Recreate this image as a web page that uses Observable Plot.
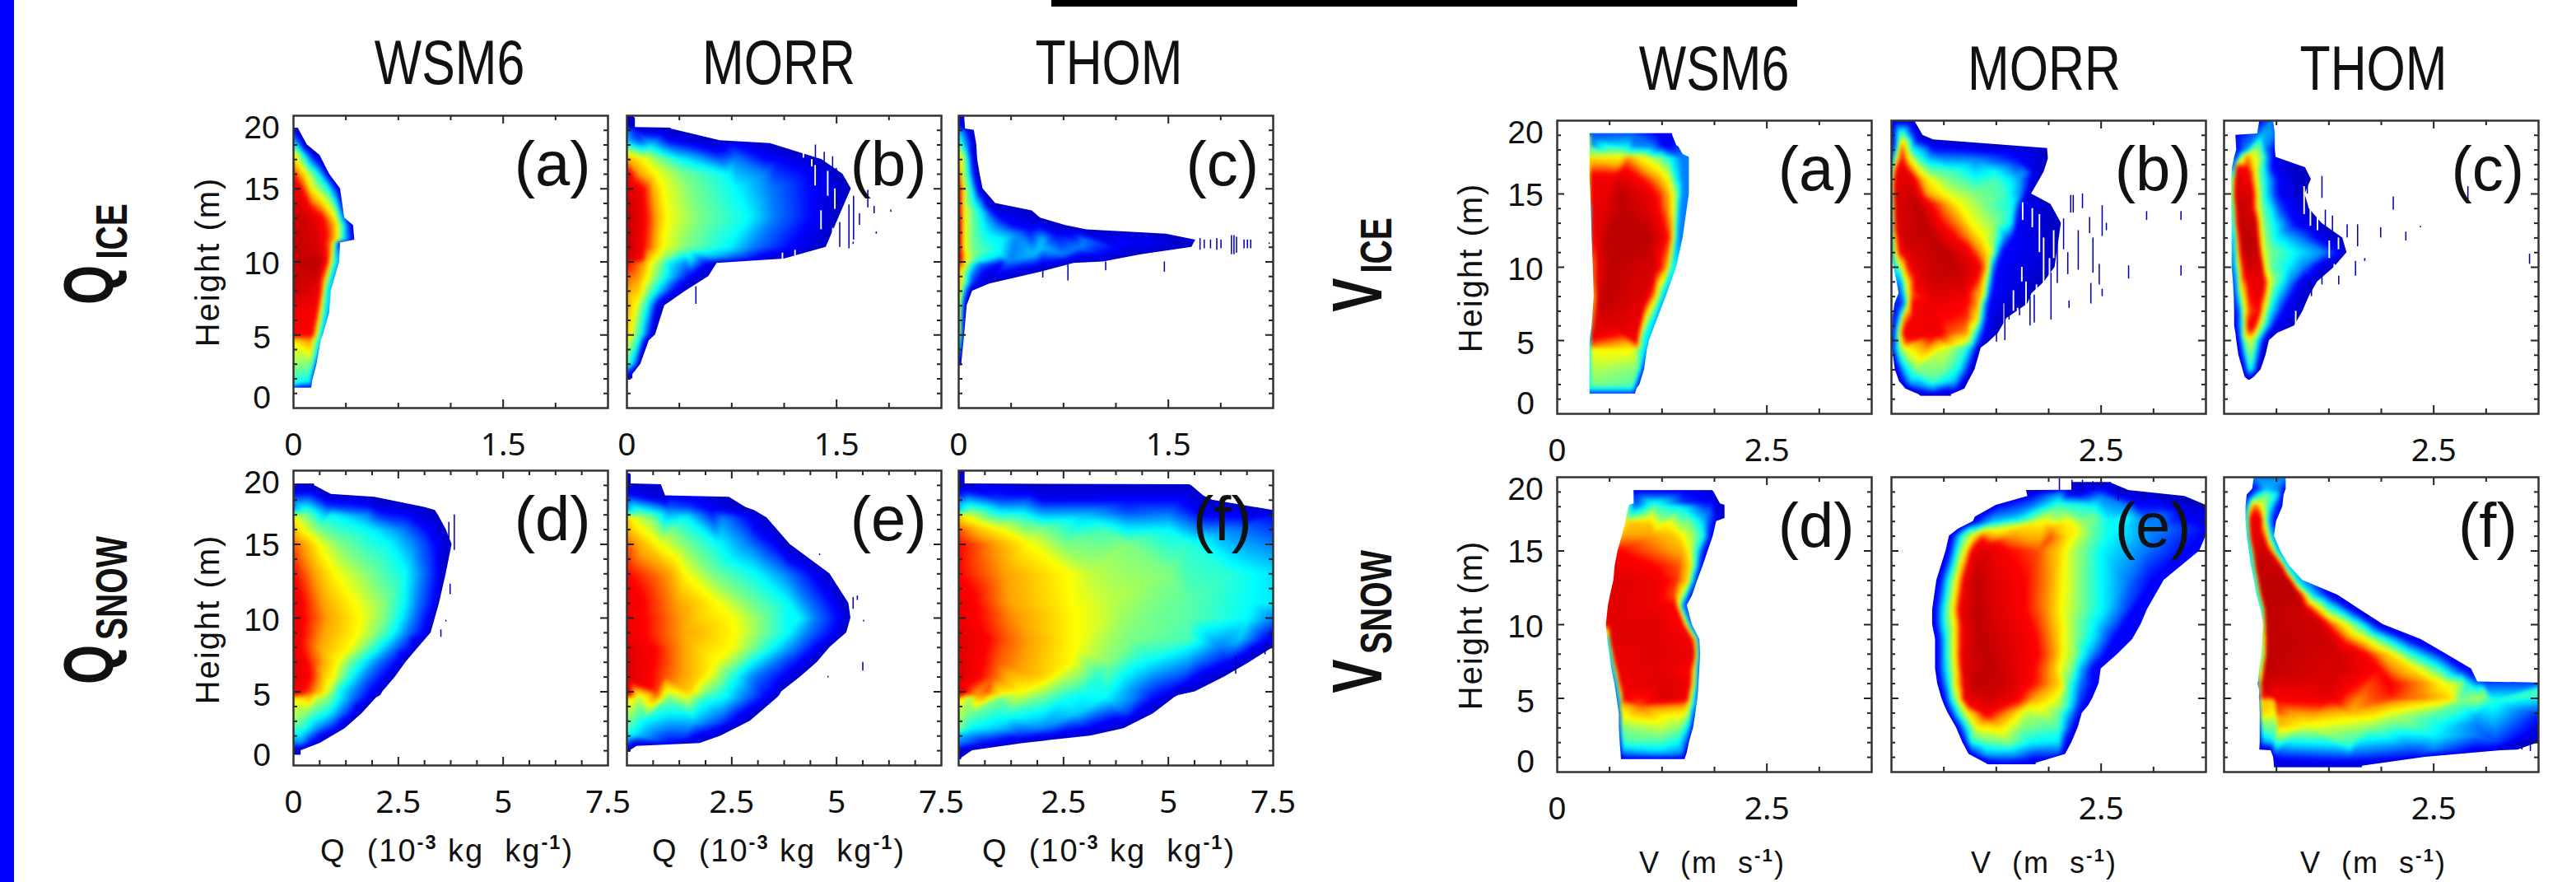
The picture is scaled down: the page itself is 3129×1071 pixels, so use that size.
<!DOCTYPE html>
<html><head><meta charset="utf-8">
<script src="https://cdn.jsdelivr.net/npm/d3@7"></script>
<script src="https://cdn.jsdelivr.net/npm/@observablehq/plot@0.6"></script>
<style>
html,body{margin:0;padding:0;background:#fff}
#page{position:relative;width:3129px;height:1071px;overflow:hidden;background:#fff;font-family:"Liberation Sans",sans-serif;color:#111}
#page svg{position:absolute;background:none;overflow:visible}
.lab{position:absolute;white-space:nowrap;transform-origin:center;line-height:1}
.lab sup{font-size:.62em;line-height:0;vertical-align:.62em;font-weight:bold}
</style></head><body><div id="page"></div>
<script>
// Readings: each row is [height km, bin, level, bin, level, ...]; level 0 = empty, 10 = densest.
// One bin is 0.003 (Q ice), 0.01 (Q snow) x 10^-3 kg/kg, or 0.005 m/s (V).
const qIceWsm=[[19.15,0,0,12,0],[19.1,0,2,10,1,12,0],[18,0,4,15,3,30,1,33,0],[17.3,0,6.5,20,4.5,45,2,60,1,63,0],[16,0,8,30,6,60,4,80,2,86,0],[15,0,8.5,20,8,45,6,85,4,108,1.5,112,0],[13,0,10,40,9,70,8,100,6,112,4,122,0],[12.5,0,10,50,9,95,7,105,6,120,4,140,1.5,143,0],[11.5,0,10,60,9,95,7,105,6,120,4,142,2,146,0],[11.3,0,10,60,9,90,7,98,5,108,2,112,0],[10,0,10,60,10,80,8,90,6,100,4,110,0],[8,0,10,40,9,65,8,72,6,80,4,90,0],[6.5,0,8.5,55,8,65,6,75,4,86,0],[5,0,8,45,8,50,7,55,6,65,4,71,0],[4.8,0,7.5,40,7.5,50,6.5,62,4,68,0],[4.6,0,6.2,50,5.5,60,4,66,0],[3,0,5.2,40,5,50,4,56,0],[1.8,0,4.2,35,4,45,0],[1.5,0,3.8,40,3.8,44,0],[1.42,0,2,40,2,43,0],[1.37,0,0,43,0]];
const qIceMorr=[[20,0,0,15,0],[19.8,0,1,15,1,20,0],[19.2,0,1,20,1],[19.15,0,0,105,0],[19.1,0,3,20,2,100,1,105,0],[18.3,0,3.5,30,2.5,100,2,200,1,222,0],[18.1,0,4,60,3.5,250,2,335,1,342,0],[17,0,7,40,6,80,5,130,4,260,3,360,2,460,1,465,0],[16,0,8.5,30,7,70,6,130,5,240,4,330,3,430,2,510,1,515,0],[15,0,9,40,8,60,7,85,6,150,5,260,4,340,3,440,2,530,1,535,0],[13,0,10,45,8,70,7,95,6,170,5,290,4,350,3,440,2,500,1,505,0],[11,0,10,40,8,65,7,85,6,140,5,240,4,300,3,390,2,470,1,475,0],[10.2,0,9.5,35,8,55,6.5,90,5,150,4,220,3,300,2,370,1,375,0],[9.9,0,8,40,7,55,6,80,5,100,4,140,3,190,2,210,1,215,0],[9,0,7.5,30,7,50,6,70,5,95,4,120,3,150,2,190,1,195,0],[8,0,7,30,6.5,50,5,70,4,90,3,110,2,135,1,140,0],[7,0,7,20,6,35,5,50,4,60,3,70,2,85,1,90,0],[5,0,6.5,10,6,20,5,35,4,45,3,55,2,65,1,68,0],[4.6,0,6,15,5,30,4,42,2,50,1,53,0],[3,0,4.5,10,4,20,3,30,1,33,0],[2.3,0,2,12,1,14,0],[2,0,0,14,0]];
const qIceThom=[[20,0,2,12,1,14,0],[19.1,0,2.5,12,1.5,16,0],[19,0,3.5,15,2.5,35,1,37,0],[18,0,5,10,4,20,3,40,1,43,0],[17,0,6.5,8,6,14,5,22,4,32,2,42,1,45,0],[16,0,8,7,6,14,5,25,4,36,2,48,1,51,0],[15,0,9,8,7,12,6,20,5,32,4,45,2,55,1,58,0],[14,0,9,8,7,12,6,22,5,40,4,55,3,70,1.5,85,1,88,0],[13.5,0,9,8,7,14,6,30,5,50,4,80,2,170,1,175,0],[13,0,9.5,8,7,14,6,30,5,55,4,75,3,100,2,190,1,195,0],[12.5,0,10,8,7,14,6,30,5,60,4,90,3,130,2,250,1,255,0],[12.2,0,10,8,7,14,6,30,5,60,4,110,3,170,2,300,1,305,0],[11.9,0,10,8,7,14,6,30,5,70,4,140,3,230,2,490,1,495,0],[11.5,0,10,8,7,14,6,30,5,100,4,200,3.5,300,3,400,2,480,1.5,560,1,565,0],[11,0,10,8,7,14,6,30,5,100,4,200,3.5,290,3,380,2,470,1.5,550,1,556,0],[10.5,0,10,10,7,20,6,35,5,100,4,180,3.5,250,3,340,2,430,1,435,0],[10,0,9,10,7,18,6,30,5,50,4,120,3,200,2,340,1,345,0],[9.9,0,8,10,7,20,5.5,30,4.5,50,3,100,2,270,1,275,0],[9.3,0,7,8,6,15,5,25,4,35,3,60,2,190,1,195,0],[8.5,0,7,6,6,12,5,20,4,30,2.5,70,1,74,0],[8,0,6.5,6,5.5,12,4,20,2.5,30,1,33,0],[7,0,6,5,5,10,3,18,1,20,0],[5,0,6,4,5,8,3,12,1,14,0],[3,0,2,5,1,7,0],[2.9,0,0,7,0]];
const qSnowWsm=[[19.1,0,0,50,0],[19,0,1.5,45,1,50,0],[18.4,0,2,85,1,90,0],[18.2,0,2.5,100,1.5,190,1,194,0],[17.5,0,3,100,2.5,200,1.5,310,1,314,0],[17.3,0,3.5,80,3,200,2,335,1,338,0],[17,0,5.8,30,5,90,4,180,3,270,2,340,1,345,0],[16,0,7,20,6,60,5,180,4,260,3,320,2,360,1,364,0],[15,0,7.5,45,6.5,60,6,110,5,230,4,290,3,340,2,375,1,378,0],[13,0,8,50,7,100,6,180,5,270,4,305,3,345,2,360,1,364,0],[11,0,8.5,70,7,145,6,220,5,265,4,295,3,335,2,345,1,348,0],[10,0,8.5,80,7,160,6,215,5,255,4,285,3,320,2,335,1,338,0],[9,0,8.5,70,7,155,6,200,5,240,4,270,3,310,2,325,1,328,0],[8,0,8.5,60,7,135,6,170,5,205,4,240,3,280,2,295,1,298,0],[7,0,9,50,7.5,105,6,130,5,165,4,200,3,245,2,265,1,268,0],[6,0,9,40,8,75,6.5,95,6,115,5,140,4,170,3,215,2,240,1,243,0],[5,0,8.5,40,7.5,70,6.4,85,5.5,110,4,145,3,185,2,210,1,213,0],[4.75,0,8,40,7,65,6,85,5,110,4,145,3,185,2,205,1,208,0],[4.6,0,6.2,60,5.5,85,5,110,4,140,3,175,2,195,1,198,0],[3.5,0,5.5,30,5,60,4.3,80,4,110,3,140,2,160,1,163,0],[2.5,0,4.6,10,4.5,30,4,60,3,100,2,120,1,123,0],[1.5,0,3,20,3,40,2,60,1,63,0],[1,0,1.5,15,1,18,0],[.7,0,0,18,0]];
const qSnowMorr=[[19.8,0,0,8,0],[19.7,0,1,8,1,10,0],[19.1,0,1,10,0],[19.05,0,1,78,1,82,0],[18.3,0,2,88,1,92,0],[18.2,0,2.5,100,2,180,1.5,240,1,244,0],[17.5,0,3,150,2.5,230,1.5,280,1,284,0],[17.3,0,3.5,100,3,200,2,300,1,304,0],[16.8,0,6.5,30,5.5,60,5,140,4,230,3,290,2,330,1,334,0],[15,0,7.5,50,6.5,75,6,140,5,220,4,290,3,350,2,385,1,389,0],[13,0,8,100,7,140,6,200,5,310,4,380,3,440,2,480,1,484,0],[11,0,8.5,120,7,215,6,290,5,385,4,430,3,490,2,525,1,529,0],[10,0,8.5,130,7,250,6,320,5,410,4,450,3,505,2,530,1,534,0],[9,0,8.5,130,7,260,6,320,5,385,4,430,3,490,2,520,1,524,0],[8,0,9,120,7.2,250,6,300,5,350,4,400,3,450,2,480,1,484,0],[7,0,9,100,7.5,210,6,260,5,300,4,350,3,410,2,450,1,454,0],[6,0,9,90,7.5,170,6.5,210,5.5,250,4.3,300,3,370,2,410,1,414,0],[5,0,9,70,7.7,150,6.5,190,5,240,4,290,3,345,2,365,1,369,0],[4.75,0,8.5,70,7.5,140,6,180,5,240,4,280,3,330,2,360,1,364,0],[4.6,0,6.5,30,5.5,100,5,180,4.5,230,4,280,3,330,2,355,1,359,0],[3,0,5,40,4,160,3.5,230,2.5,270,1.5,290,1,294,0],[2,0,4,30,3.5,140,2.5,200,1.5,220,1,224,0],[1.5,0,3,100,2,170,1,174,0],[1.3,0,1.5,20,1,24,0],[1,0,1,5,1,8,0],[.9,0,0,8,0]];
const qSnowThom=[[20,0,0,2,1,12,1,15,0],[19.1,0,1,15,1],[19.05,0,0,550,0],[19,0,1.5,180,1,550,1,555,0],[18.3,0,2.2,200,1.5,580,1,584,0],[18,0,3,100,2.5,400,2,600,1,605,0],[17.3,0,3.5,200,3,400,2.5,600,1.5,750,1.2],[17,0,6.5,30,5.5,150,4.2,300,3.5,500,3,750,2],[16,0,7.5,60,6.5,100,6,200,5,350,4.5,500,4,650,3,750,2.5],[15,0,8,90,7,170,6,250,5,400,5,550,4.3,680,3.3,750,3],[13,0,8,110,7,260,6,320,5.5,500,5,650,4.3,750,3.8],[11,0,8.5,120,7,270,6,360,5.5,550,4.7,700,4,750,3.9],[10,0,8.5,120,7.2,280,6,360,5.5,550,4.7,690,4,750,3],[8.5,0,9,110,7.5,280,6,400,5,550,4.5,670,3.5,730,2,750,1.5],[8,0,9,100,7.5,280,6,400,5,550,4,620,3,700,2,745,1,750,0],[7,0,9,90,7.5,270,6,360,5,450,4,560,3,640,2,690,1,694,0],[6,0,9,80,7.5,200,6.5,250,5.5,330,4.3,430,3.5,540,2.5,630,1,634,0],[5,0,9,70,7.5,150,6,220,5,300,4.2,420,3,500,2,560,1,564,0],[4.75,0,9,40,7,100,6,200,5,300,4,420,3,480,2,520,1,524,0],[4.6,0,6.5,30,5.2,100,5,250,4.2,350,4,420,3,470,2,510,1,514,0],[3.5,0,5.5,30,4.8,120,4.3,280,3.6,400,2.5,460,1,464,0],[2.5,0,5,30,4,100,3.5,200,3,300,2,390,1,394,0],[2,0,3.5,40,3,150,2.3,250,1.5,310,1,314,0],[1.5,0,3,30,2.5,60,2,150,1,154,0],[1,0,1.8,30,1,33,0],[.5,0,1,5,1,7,0],[.4,0,0,7,0]];
const vIceWsm=[[19.12,78,0,275,0],[19,78,0,80,2.5,180,2.8,240,2,265,1.5,275,0],[18.3,78,0,80,3,180,3,250,2,285,0],[18.2,78,0,80,4.5,170,4,230,3,270,2,290,0],[17.7,78,0,80,5,170,5,230,4,270,3,300,0],[17.5,78,0,80,6.3,150,6,170,7,200,6,240,5,270,4,295,3,315,0],[16,78,0,80,8.5,130,8.5,150,9,200,8,240,7,265,6,285,4,300,3,315,0],[15,80,0,82,8.5,120,8.7,150,10,200,9,250,7.5,270,6.5,285,5,300,3,315,0],[14,81,0,83,8.5,120,9,150,10,220,9,265,7,280,5.5,295,3,310,0],[12,83,0,85,8,100,9,120,10,220,10,270,7.5,280,5,290,3,300,0],[10,86,0,88,7,100,9,130,10,230,9.3,260,7,275,4,285,0],[8,88,0,90,6,95,9,120,10,210,9,235,6.5,250,4,260,0],[6,83,0,85,7,90,9,140,9,195,8.5,205,6,220,4,233,0],[5,78,0,80,8,190,8.3,195,6.5,205,4,220,0],[4.6,78,0,80,7.2,190,7.5,195,6,205,4,217,0],[4.4,78,0,80,6,180,6,205,4,215,0],[3,78,0,80,5.4,190,5,200,3.5,208,0],[2,78,0,80,5,180,4.7,195,2,197,0],[1.7,78,0,80,4,180,4,190,0],[1.42,78,0,80,2.5,180,2.5,187,0],[1.35,78,0,187,0]];
const vIceMorr=[[20,3,0,5,1.5,45,1.5,55,0],[19,0,0,3,2,25,5,45,3,60,2,70,1,75,0],[18.7,2,0,5,1.5,15,4,28,6,45,4,60,2,95,1,100,0],[18.1,2,0,5,2,25,7.5,50,4,80,3,100,2,365,1,372,0],[17.4,1,0,3,3,12,6,25,8,45,6,65,4.5,90,3.5,200,3,300,2,370,1,374,0],[16.5,0,3,2,5,10,8,30,9,55,7,70,6,90,5,150,4.5,250,4,320,3,345,1.5,360,1,364,0],[16,0,4,2,6,10,8.5,45,9,70,7,90,6,130,5,250,4.5,300,3.5,330,2,350,1,354,0],[15,0,4,2,5,8,9,50,9.5,85,7,125,6,200,5,270,4.5,310,3,330,1,334,0],[14.3,0,3,2,5,10,9,60,10,95,8,130,7,160,6,220,5,290,4,310,2,375,1,380,0],[13,1,0,3,5,12,9,80,10,120,8,165,7,190,6,250,5,285,4,300,2,350,1.2,400,1,405,0],[12,1,0,3,5,15,8,30,9.5,100,10,135,8.5,190,7,220,6,245,5,260,4,270,3,290,2,395,1,400,0],[11,2,0,5,5,20,8,40,9,130,10,165,9,215,7,233,6,245,5,252,3.5,265,2,390,1,395,0],[10,6,0,12,4,25,6,40,8,60,9,150,10,205,8.5,225,7,235,5,242,3,385,1,390,0],[9,13,0,20,3,30,5,45,7,60,8.5,100,9.5,170,9.3,210,7.5,225,5.5,235,3.5,245,2,360,1,365,0],[8.2,18,0,25,3,40,6,50,7.5,100,9,170,8.6,215,6.5,225,5,232,3,240,2,330,1,335,0],[7.5,8,0,15,2,30,3,40,6,50,8,100,8.6,180,8,205,7,215,5,225,3,235,2,320,1,325,0],[6.5,3,0,8,1.5,20,4,30,7,50,8.2,180,7.7,205,6.2,215,4,228,2,270,1,275,0],[5.5,2,0,5,2,20,6,30,8.3,100,8.5,140,7.5,180,7,195,5,210,3,220,2,250,1,255,0],[4.8,2,0,5,2,20,5,35,7.5,130,7,170,5.7,190,4.5,205,2.5,225,1,229,0],[4.5,2,0,5,2.5,20,5,35,6,130,5.7,175,4.5,195,3,210,1,214,0],[3,9,0,12,1.5,30,3.5,60,5,120,5,160,4,180,2.5,195,1,199,0],[2.2,19,0,22,1.5,45,3.5,100,4.5,150,3.5,170,2,180,1,184,0],[1.7,34,0,38,1.5,65,2.5,100,3.2,150,2.5,172,1,175,0],[1.3,66,0,70,1,120,1.2,140,1,143,0],[1.2,70,0,143,0]];
const vIceThom=[[20,85,0,88,2,115,3,118,0],[19.1,80,0,85,3,118,3,122,0],[19,28,0,32,2,90,3.5,118,3,122,0],[18,30,0,35,2,50,3,70,5.3,85,5,100,3,118,2,122,0],[17.5,25,0,30,2,40,5,55,7.3,70,6,90,5,105,3,118,2,124,0],[16.8,20,0,24,3,30,8,55,8,75,6,95,4,115,2,150,1.2,190,1,194,0],[16,18,0,22,5,28,9,60,8.5,70,7,85,5,105,3.5,130,2,170,1.2,205,1,208,0],[15,18,0,21,5,26,9,65,9,75,7,88,5,105,3.5,130,2,190,1,193,0],[14,18,0,22,4,28,8,40,10,65,9,78,6.5,90,5,110,4,135,2.5,200,1,203,0],[13,19,0,23,4,30,8,40,10,75,9.5,80,7.5,95,5,120,4,170,2,230,1,233,0],[12,19,0,24,3,32,7,45,10,75,10,85,7,100,5,125,4,180,3,240,1.5,280,1,283,0],[11,19,0,24,3,35,7,50,10,82,9.5,92,6,110,5,170,4,240,3,275,2,290,1,293,0],[10,19,0,24,3,40,7,55,9.5,90,9,97,6,115,4.7,150,4,190,3,230,1.5,260,1,263,0],[9,22,0,28,3,40,6.5,60,8.5,95,8.7,105,6.5,120,5,160,3,190,1.5,220,1,223,0],[8,24,0,30,3,45,6,60,8,85,8.7,98,7,110,5,130,3.5,170,1.5,200,1,203,0],[7,25,0,32,2,45,5,60,7.5,85,8,95,6,110,4,140,2,185,1,188,0],[6,25,0,30,2,45,4.5,57,8,70,8.5,85,6,100,4,120,2,140,1.5,165,1,168,0],[5.5,28,0,34,2,45,5,55,7,65,7.5,75,6,90,4,105,2,125,1,128,0],[5,30,0,36,2,50,5,65,5.8,80,4,95,2,105,1,108,0],[4,35,0,42,2,55,4.5,65,5,80,3,90,1.5,97,1,100,0],[3,45,0,50,2,60,4,70,3.5,80,1.5,85,1,88,0],[2.5,50,0,55,1.5,60,2.2,66,1.5,70,1,72,0],[2.3,58,0,62,0]];
const vSnowWsm=[[19.1,183,0,370,0],[19,183,0,185,2,300,2,360,1.5,370,1,374,0],[18.2,183,0,185,2.5,300,2.5,360,2,385,1,389,0],[18.1,172,0,174,4.5,230,4.5,300,3.7,365,2.5,400,0],[17.2,165,0,167,5,250,5,300,4.5,345,3.5,380,2,400,0],[17,164,0,166,6.5,220,6.5,270,5.8,310,5,350,3.5,375,2,380,0],[16,155,0,157,7,230,7,280,6.6,300,6,330,5,350,4,365,2,372,0],[15,145,0,147,8,240,7.3,300,6.8,318,5.7,335,4,350,2,360,0],[14,138,0,140,8.5,230,8,290,7.5,315,6.5,325,5,335,3.5,343,2,348,0],[13,135,0,137,9,230,8.5,285,7.7,310,6.5,320,4.5,330,2.5,335,0],[12,127,0,130,9,230,8.5,280,7.5,295,6,308,4,318,2,323,0],[11.3,122,0,124,9,230,8.5,282,8,292,5.5,300,3,310,0],[10,117,0,120,8,125,9,230,9,300,8,310,5.5,318,3,322,0],[9,120,0,122,4,128,9,230,9,320,8.3,330,6,337,3,340,0],[8,125,0,128,4,135,8.5,230,9,325,8.5,332,6,340,3,342,0],[7,130,0,133,3,140,7,145,8.5,250,8.8,318,8,328,6,336,3,340,0],[6,137,0,140,3,147,7,155,8.5,250,9,315,8.5,325,6,335,3,338,0],[5.1,142,0,146,3,152,6,160,8.5,250,9.3,310,8.5,320,5.5,332,3,336,0],[4.5,145,0,148,3,152,6.5,200,7.5,250,7.3,305,7,318,5,330,3,333,0],[3.9,148,0,150,2,153,5.8,250,6.2,300,6,315,5,325,2.5,330,0],[3,148,0,150,2.5,155,5,250,5.5,295,5,315,3.5,322,2,325,0],[2,150,0,152,3,160,4.5,250,4.5,290,4,310,2.5,315,0],[1.3,152,0,154,3,250,3.5,300,3,305,1.5,310,0],[.9,153,0,155,1.8,300,1.8,305,0],[.85,153,0,305,0]];
const vSnowMorr=[[19.65,430,0,525,0],[19.6,430,0,435,1,520,1,525,0],[19.12,430,1,565,1],[19.1,322,0,328,1,545,1,565,0],[18.7,325,0,330,2,400,3.5,500,3,570,1.5,650,1.2,700,0],[18.1,250,0,258,2,340,3,400,4.5,480,4,560,3,640,2,720,1.2,750,.8],[17.3,200,0,208,2,300,3.5,400,5,480,5,560,4,640,3,750,2],[17,195,0,205,2,240,3.5,300,4.5,360,6,420,6,460,5,520,4,610,3,750,2],[16.5,160,0,165,2,185,4,250,5.7,300,6.5,380,7,430,6.3,470,5,540,4,640,3,750,2],[16,138,0,145,2,165,4,195,6,215,7.5,280,7,380,7.5,425,6.2,470,5,520,4,620,3,750,2],[15,130,0,138,2,155,4,175,6,195,8.5,225,9,280,8,350,7.5,400,6.5,430,5.5,500,4,600,3,700,2,735,0],[13,108,0,116,2,135,4,155,6,175,8.5,205,10,240,9,320,8,380,7,410,6,450,5,500,4,560,3,620,2,650,0],[11,98,0,105,2,125,4,145,6,165,8.5,205,10,250,9,320,8,375,7,405,6,450,5,510,3.8,560,2.5,610,0],[10,98,0,105,2,125,4,150,6,170,8.5,205,10,265,9,335,8,380,7,410,6,440,5,490,3.8,540,2.5,595,0],[9,105,0,112,2,130,4,150,6,170,8.5,215,10,280,9,345,8,385,7,410,6,440,5,490,3.5,530,2,575,0],[8,105,0,112,2,130,4,150,6,172,9,225,10,285,9,350,8,390,7,410,6,440,5,470,3.5,510,2,540,0],[7,105,0,112,2,132,4,152,6,175,9,240,10,290,9,340,8,380,7,400,6,430,5,450,3.5,480,2,500,0],[6,110,0,117,2,137,4,152,6,175,8.5,200,10,270,9.5,310,8.5,360,7.5,400,6.5,425,4.5,450,3,480,2,495,0],[5,120,0,127,2,142,4,160,6,175,8.5,240,9.5,300,8.2,340,7,390,6,420,4.5,450,2.5,480,0],[4.5,127,0,132,2,150,4,170,6,185,8,300,7.5,350,6.2,410,5,440,3,470,0],[4,135,0,140,2,158,4,180,6,225,8.3,280,7,320,5.5,400,4.8,430,3,455,0],[3,155,0,160,2,180,4,205,6,260,6.3,310,5,400,4.5,425,2.5,445,0],[2,170,0,175,2,190,4,220,4.6,280,5,330,4,400,3.8,415,2,430,0],[1.2,185,0,192,2,225,3.3,290,3.3,340,2.5,400,2.5,410,1.5,415,0],[.6,225,0,230,1.5,270,2,340,1.5,345,0],[.5,230,0,345,0]];
const vSnowThom=[[20,72,0,75,3,145,3,148,0],[19.2,68,0,72,2,100,3.5,130,3,145,2,148,0],[18.8,55,0,60,2,80,4,100,5,125,4,140,2,143,0],[18,52,0,55,3,65,6.5,75,7.5,90,6,105,4.5,125,2.5,140,0],[17,52,0,55,4,62,8.5,88,8.5,95,6,105,4,118,2,125,0],[16,55,0,58,4,63,8,85,9,100,7,112,4,120,0],[15,60,0,65,4,72,9,100,9.5,115,7,125,4,135,0],[14,65,0,70,4,78,10,130,9.5,140,7,148,4,156,0],[13,72,0,76,4,85,10,150,10,162,7,172,4,188,0],[12,78,0,82,4,92,10,175,10,190,7,210,4,250,2,272,0],[11,88,0,92,4,100,10,190,9.5,220,7,245,5,280,3.5,315,1.5,325,0],[10,94,0,97,6,102,10,230,9.5,255,7.5,290,6,330,4,370,1.5,380,0],[9,92,0,97,6,105,10,250,9.5,290,7.5,340,6,390,4,440,2,470,0],[8,90,0,96,5,103,10,270,9.5,340,8,390,6.5,440,4.5,520,2,530,0],[7,85,0,90,5,98,10,270,9.5,370,8,450,6.3,510,4.5,570,2,590,0],[6.12,82,0,605,0],[6.05,80,0,85,6,95,10,250,9,400,8,480,7,520,6,570,5,580,4,600,3,620,2.5,750,2.5],[5.5,85,0,88,7,100,9.5,250,9,400,8,480,7,540,6,620,5,750,4.8],[5,84,0,88,7.5,250,8.5,400,7.7,480,7.2,540,6.4,610,5.3,750,4],[4.8,85,0,88,6.5,120,6.5,125,8,250,8,400,7.2,480,6.5,560,5,640,4.3,750,3.6],[4,86,0,90,6.5,122,6,127,7.5,300,6.8,400,5.8,500,4.8,600,3.8,750,2.5],[3.8,86,0,90,6,122,5.7,127,7,300,6.3,400,5.5,500,4.5,600,3.3,750,2.2],[3.2,86,0,90,5,125,5,130,6.8,200,6,350,5.3,500,4.2,600,3,750,2],[2.5,86,0,90,4,120,4.5,128,5.4,300,4.8,500,4,600,3,750,1.2],[2,86,0,90,3,115,3.5,125,4.5,300,4.5,500,3.5,650,2.5,750,.5],[1.5,85,0,88,1.5,112,1.5,118,2.5,300,3.8,500,3,650,1.5,700,0],[1.45,112,0,118,3,300,3.5,500,2.8,600,1.8,660,0],[1,118,0,121,2,300,2.5,450,2,480,0],[.4,120,0,124,1.2,300,1.2,330,0],[.3,120,0,330,0]];
// Isolated occupied bins: [bin, lower height, upper height]
const qIceMorrSpecks=[[574,13.7,14.9],[589,13.3,13.8],[629,13.4,13.55],[554,12.5,13.3],[529,10.9,13.9],[507,11,12.7],[594,11.9,12.05],[539,11.2,11.35],[499,15.4,16.4],[449,17,18],[164,7.1,8.3],[520,14.5,15.6],[490,16,17.2],[470,16.3,17.5],[540,11.5,14.5]];
const qIceThomSpecks=[[575,10.8,11.6],[585,10.9,11.5],[600,10.9,11.5],[615,10.8,11.6],[625,10.9,11.5],[650,10.5,11.8],[656,10.5,11.8],[662,10.6,11.7],[680,10.9,11.5],[688,10.9,11.5],[696,10.9,11.5],[740,11.2,11.3],[490,9.3,10],[260,8.7,9.9],[200,8.9,9.9],[350,9.4,10]];
const qSnowWsmSpecks=[[383,14.6,17],[373,11.6,12.3],[351,8.7,9.2],[363,9.75,9.85],[370,15,16.5]];
const qSnowMorrSpecks=[[539,10.6,11.4],[562,6.4,7],[564,9.75,9.85],[479,5.95,6.05],[459,14.25,14.35],[549,11.2,11.5]];
const qSnowThomSpecks=[[700,7.2,8],[730,7.5,8.3],[660,6.2,7.4]];
const vIceMorrSpecks=[[455,14,15],[427,13.7,14.9],[433,13.7,14.9],[502,12.1,14.2],[472,12.3,13.4],[512,12.5,13],[608,13.2,13.8],[690,13.2,13.8],[445,9.8,12.5],[480,9.6,12],[495,8.8,10.2],[565,9.2,10.1],[690,9.4,10.1],[475,7.5,8.9],[502,8,8.5],[423,7.2,7.7],[380,6.4,9.6],[395,8.9,12.7],[340,6.2,8.1],[305,6.7,7.7],[280,6.4,8.1],[250,4.9,6.9],[410,11.2,13.3],[420,9.5,11],[375,13.5,14.3],[330,6,8],[270,5,7.5]];
const vIceThomSpecks=[[173,14.7,16.8],[198,15,16.4],[233,14.7,16.2],[241,12.7,13.9],[273,8.8,9.4],[313,9.4,10.4],[318,11.4,12.9],[293,12,12.9],[258,12.2,13.5],[403,13.9,14.8],[373,12,12.7],[433,11.8,12.4],[581,14.4,15.5],[728,10.2,10.9],[335,10.4,10.6],[468,12.7,12.8],[208,8,8.9],[233,8.8,9.6],[185,14.5,16.5]];
const vSnowThomSpecks=[[710,1.5,2.2],[730,1.4,2]];
const vSnowMorrSpecks=[[400,19.1,19.9],[430,19.1,19.8],[455,19.1,19.8],[480,19.1,19.7],[540,18.4,19.1],[600,18.3,19],[650,18.2,18.8],[680,17.8,18.6]];
// Empty slits inside the sparse outer fringe: [bin, lower height, upper height]
const vIceMorrGaps=[[320,6,9],[345,5.4,8.8],[362,8.9,12],[376,9.2,10.6],[386,10.6,12.5],[398,8,11],[300,5.4,7.2],[268,6,7.5],[290,7,8.4],[352,11,13.6],[335,12.7,14],[310,9,10],[330,5.6,6.8],[312,13.2,14.4],[370,7,8.5]];
const vIceThomGaps=[[205,12.8,15.5],[222,12.5,14.7],[190,13.6,15.5],[250,10.6,11.8],[262,9,10.2],[240,8.2,9.4],[215,7,8.2],[272,11.2,12],[170,6,7]];
const qIceMorrGaps=[[448,15.2,16.6],[478,14.5,16.2],[495,13.6,15],[462,12.2,13.5],[440,16.5,17],[490,11.4,12.3],[420,17.1,17.6],[400,10.4,10.8],[370,10.2,10.6]];

const schemes=["WSM6","MORR","THOM"];
const panelLetters=["(a)","(b)","(c)","(d)","(e)","(f)"];
const yTicks=[0,5,10,15,20];
const yLabelHeights=[.75,4.83,9.9,14.96,19.2];
const colorLevels=[0,.45,.5,1,2,3,4,5,6,7,8,10];
const colorRange=["#ffffff","#ffffff","#000090","#0000c8","#0000ff","#0080ff","#00ffff","#80ff80","#ffff00","#ffa000","#ff0000","#bf0000"];
const qIceBin=.003,qSnowBin=.01,vBin=.005;

const page=document.getElementById("page");
function label(html,x,y,size,opts={}){
  const d=document.createElement("div");d.className="lab";d.innerHTML=html;
  d.style.left=x+"px";d.style.top=y+"px";d.style.fontSize=size+"px";
  if(opts.weight)d.style.fontWeight=opts.weight;
  if(opts.spacing)d.style.letterSpacing=opts.spacing+"px";
  d.style.transform=`translate(-50%,-50%) rotate(${opts.rot||0}deg) scale(${opts.sx||1},${opts.sy||1})`;
  page.appendChild(d);
}
function bar(x,y,w,h,c){const d=document.createElement("div");d.style.cssText=`position:absolute;left:${x}px;top:${y}px;width:${w}px;height:${h}px;background:${c}`;page.appendChild(d);}

function panel({rows,specks=[],gaps=[],bin,xMax,major,minor,xLabels,left,top,w,h}){
  // occupied readings fill the interior; the row extents outline the occupied region
  const pts=[],extent=[];
  for(const r of rows){
    const y=r[0];
    for(let i=1;i<r.length;i+=2)if(r[i+1]>0)pts.push({x:r[i]*bin,y,v:r[i+1]});
    extent.push({y,lo:r[1]*bin,hi:r[r.length-2]*bin});
  }
  const topH=extent[0].y,botH=extent[extent.length-1].y;
  const lastE=extent[extent.length-1],firstE=extent[0];
  // carry the outline slightly past the first and last rows so the blank areas overlap without a seam
  const outline=[{...firstE,y:Math.min(20,topH+.2)},...extent,{...lastE,y:Math.max(0,botH-.2)}];
  const mL=80,mR=30,mT=10,mB=70;
  const yMinor=d3.range(1,20).filter(d=>d%5);
  const yMajor=[5,10,15];
  const tickStyle={stroke:"#222",strokeWidth:2};
  const svg=Plot.plot({
    width:w+mL+mR,height:h+mT+mB,marginLeft:mL,marginRight:mR,marginTop:mT,marginBottom:mB,
    x:{domain:[0,xMax],axis:null},y:{domain:[0,20],axis:null},
    color:{type:"linear",domain:colorLevels,range:colorRange,clamp:true},
    style:{background:"none",overflow:"visible"},
    marks:[
      Plot.raster(pts,{x:"x",y:"y",fill:"v",interpolate:"barycentric",blur:1.5,pixelSize:1,imageRendering:"auto"}),
      Plot.areaX(outline,{x1:"hi",x2:()=>xMax,y:"y",fill:"#fff"}),
      Plot.areaX(outline,{x1:()=>0,x2:"lo",y:"y",fill:"#fff"}),
      Plot.rect([0],{x1:0,x2:xMax,y1:topH,y2:20,fill:"#fff"}),
      Plot.rect([0],{x1:0,x2:xMax,y1:0,y2:botH,fill:"#fff"}),
      Plot.rect(gaps,{x1:d=>d[0]*bin,x2:d=>d[0]*bin+xMax*.005,y1:d=>d[1],y2:d=>d[2],fill:"#fff"}),
      Plot.rect(specks,{x1:d=>d[0]*bin,x2:d=>d[0]*bin+xMax*.004,y1:d=>d[1],y2:d=>d[2],fill:"#0000b0"}),
      Plot.tickX(minor,{x:d=>d,insetBottom:h-6,...tickStyle}),
      Plot.tickX(minor,{x:d=>d,insetTop:h-6,...tickStyle}),
      Plot.tickX(major,{x:d=>d,insetBottom:h-10,...tickStyle}),
      Plot.tickX(major,{x:d=>d,insetTop:h-10,...tickStyle}),
      Plot.tickY(yMinor,{y:d=>d,insetRight:w-5,...tickStyle}),
      Plot.tickY(yMinor,{y:d=>d,insetLeft:w-5,...tickStyle}),
      Plot.tickY(yMajor,{y:d=>d,insetRight:w-9,...tickStyle}),
      Plot.tickY(yMajor,{y:d=>d,insetLeft:w-9,...tickStyle}),
      Plot.frame({stroke:"#333",strokeWidth:2.5}),
      Plot.text(xLabels,{x:d=>d,text:d=>String(d),frameAnchor:"bottom",dy:45,lineAnchor:"middle",fontSize:39,fill:"#111"}),
    ]
  });
  svg.style.left=(left-mL)+"px";svg.style.top=(top-mT)+"px";
  page.appendChild(svg);
}
function yLabels(left,top,w,h){
  yTicks.forEach((t,i)=>label(String(t),left-38,top+h*(1-yLabelHeights[i]/20),39));
}

bar(0,0,17,1071,"#0000ff");
bar(1277,0,906,8,"#000");

const leftX=[356,761,1164],rightX=[1891,2297,2701],W=382;
const qTopMajor=[1.5],qTopMinor=[.375,.75,1.125,1.875];
const qBotMajor=[2.5,5],qBotMinor=[.625,1.25,1.875,3.125,3.75,4.375,5.625,6.25,6.875];
const vMajor=[2.5],vMinor=[.625,1.25,1.875,3.125];
const tops={lt:140,lb:571,rt:146,rb:579},hs={lt:355,lb:358,rt:356,rb:358};

[qIceWsm,qIceMorr,qIceThom].forEach((rows,i)=>panel({rows,specks:[[],qIceMorrSpecks,qIceThomSpecks][i],gaps:[[],qIceMorrGaps,[]][i],bin:qIceBin,xMax:2.25,major:qTopMajor,minor:qTopMinor,xLabels:[0,1.5],left:leftX[i],top:tops.lt,w:W,h:hs.lt}));
[qSnowWsm,qSnowMorr,qSnowThom].forEach((rows,i)=>panel({rows,specks:[qSnowWsmSpecks,qSnowMorrSpecks,qSnowThomSpecks][i],bin:qSnowBin,xMax:7.5,major:qBotMajor,minor:qBotMinor,xLabels:i?[2.5,5,7.5]:[0,2.5,5,7.5],left:leftX[i],top:tops.lb,w:W,h:hs.lb}));
[vIceWsm,vIceMorr,vIceThom].forEach((rows,i)=>panel({rows,specks:[[],vIceMorrSpecks,vIceThomSpecks][i],gaps:[[],vIceMorrGaps,vIceThomGaps][i],bin:vBin,xMax:3.75,major:vMajor,minor:vMinor,xLabels:i?[2.5]:[0,2.5],left:rightX[i],top:tops.rt,w:W,h:hs.rt}));
[vSnowWsm,vSnowMorr,vSnowThom].forEach((rows,i)=>panel({rows,specks:[[],vSnowMorrSpecks,vSnowThomSpecks][i],bin:vBin,xMax:3.75,major:vMajor,minor:vMinor,xLabels:i?[2.5]:[0,2.5],left:rightX[i],top:tops.rb,w:W,h:hs.rb}));

yLabels(leftX[0],tops.lt,W,hs.lt);yLabels(leftX[0],tops.lb,W,hs.lb);
yLabels(rightX[0],tops.rt,W,hs.rt);yLabels(rightX[0],tops.rb,W,hs.rb);

// column titles
[546,946,1347].forEach((x,i)=>label(schemes[i],x,76,64,{sx:.95,sy:1.2}));
[2082,2483,2883].forEach((x,i)=>label(schemes[i],x,83,64,{sx:.95,sy:1.2}));
// panel letters
const lx=[.825,.833,.84];
[[leftX,tops.lt,hs.lt,0],[leftX,tops.lb,hs.lb,3],[rightX,tops.rt,hs.rt,0],[rightX,tops.rb,hs.rb,3]].forEach(([xs,t,h,k])=>{
  xs.forEach((x,i)=>label(panelLetters[k+i],x+W*lx[i],t+h*.165,76));
});
// y-axis titles
[[252,318],[252,752],[1786,325],[1786,759]].forEach(([x,y])=>label("Height (m)",x,y,40,{rot:-90,spacing:2}));
// x-axis titles
[543,946,1347].forEach(x=>label('Q&nbsp; (10<sup>-3</sup> kg&nbsp; kg<sup>-1</sup>)',x,1033,38,{spacing:2}));
[2080,2483,2883].forEach(x=>label('V&nbsp; (m&nbsp; s<sup>-1</sup>)',x,1048,36,{spacing:2}));
// row titles
const rowT=[["Q","ICE",107,346,135,281],["Q","SNOW",107,807,135,714],["V","ICE",1648,358,1671,298],["V","SNOW",1648,821,1671,731]];
rowT.forEach(([a,b,x1,y1,x2,y2])=>{
  label(a,x1,y1,86,{weight:"bold",rot:-90,sx:.72});
  label(b,x2,y2,54,{weight:"bold",rot:-90,sx:.75});
});
</script></body></html>
